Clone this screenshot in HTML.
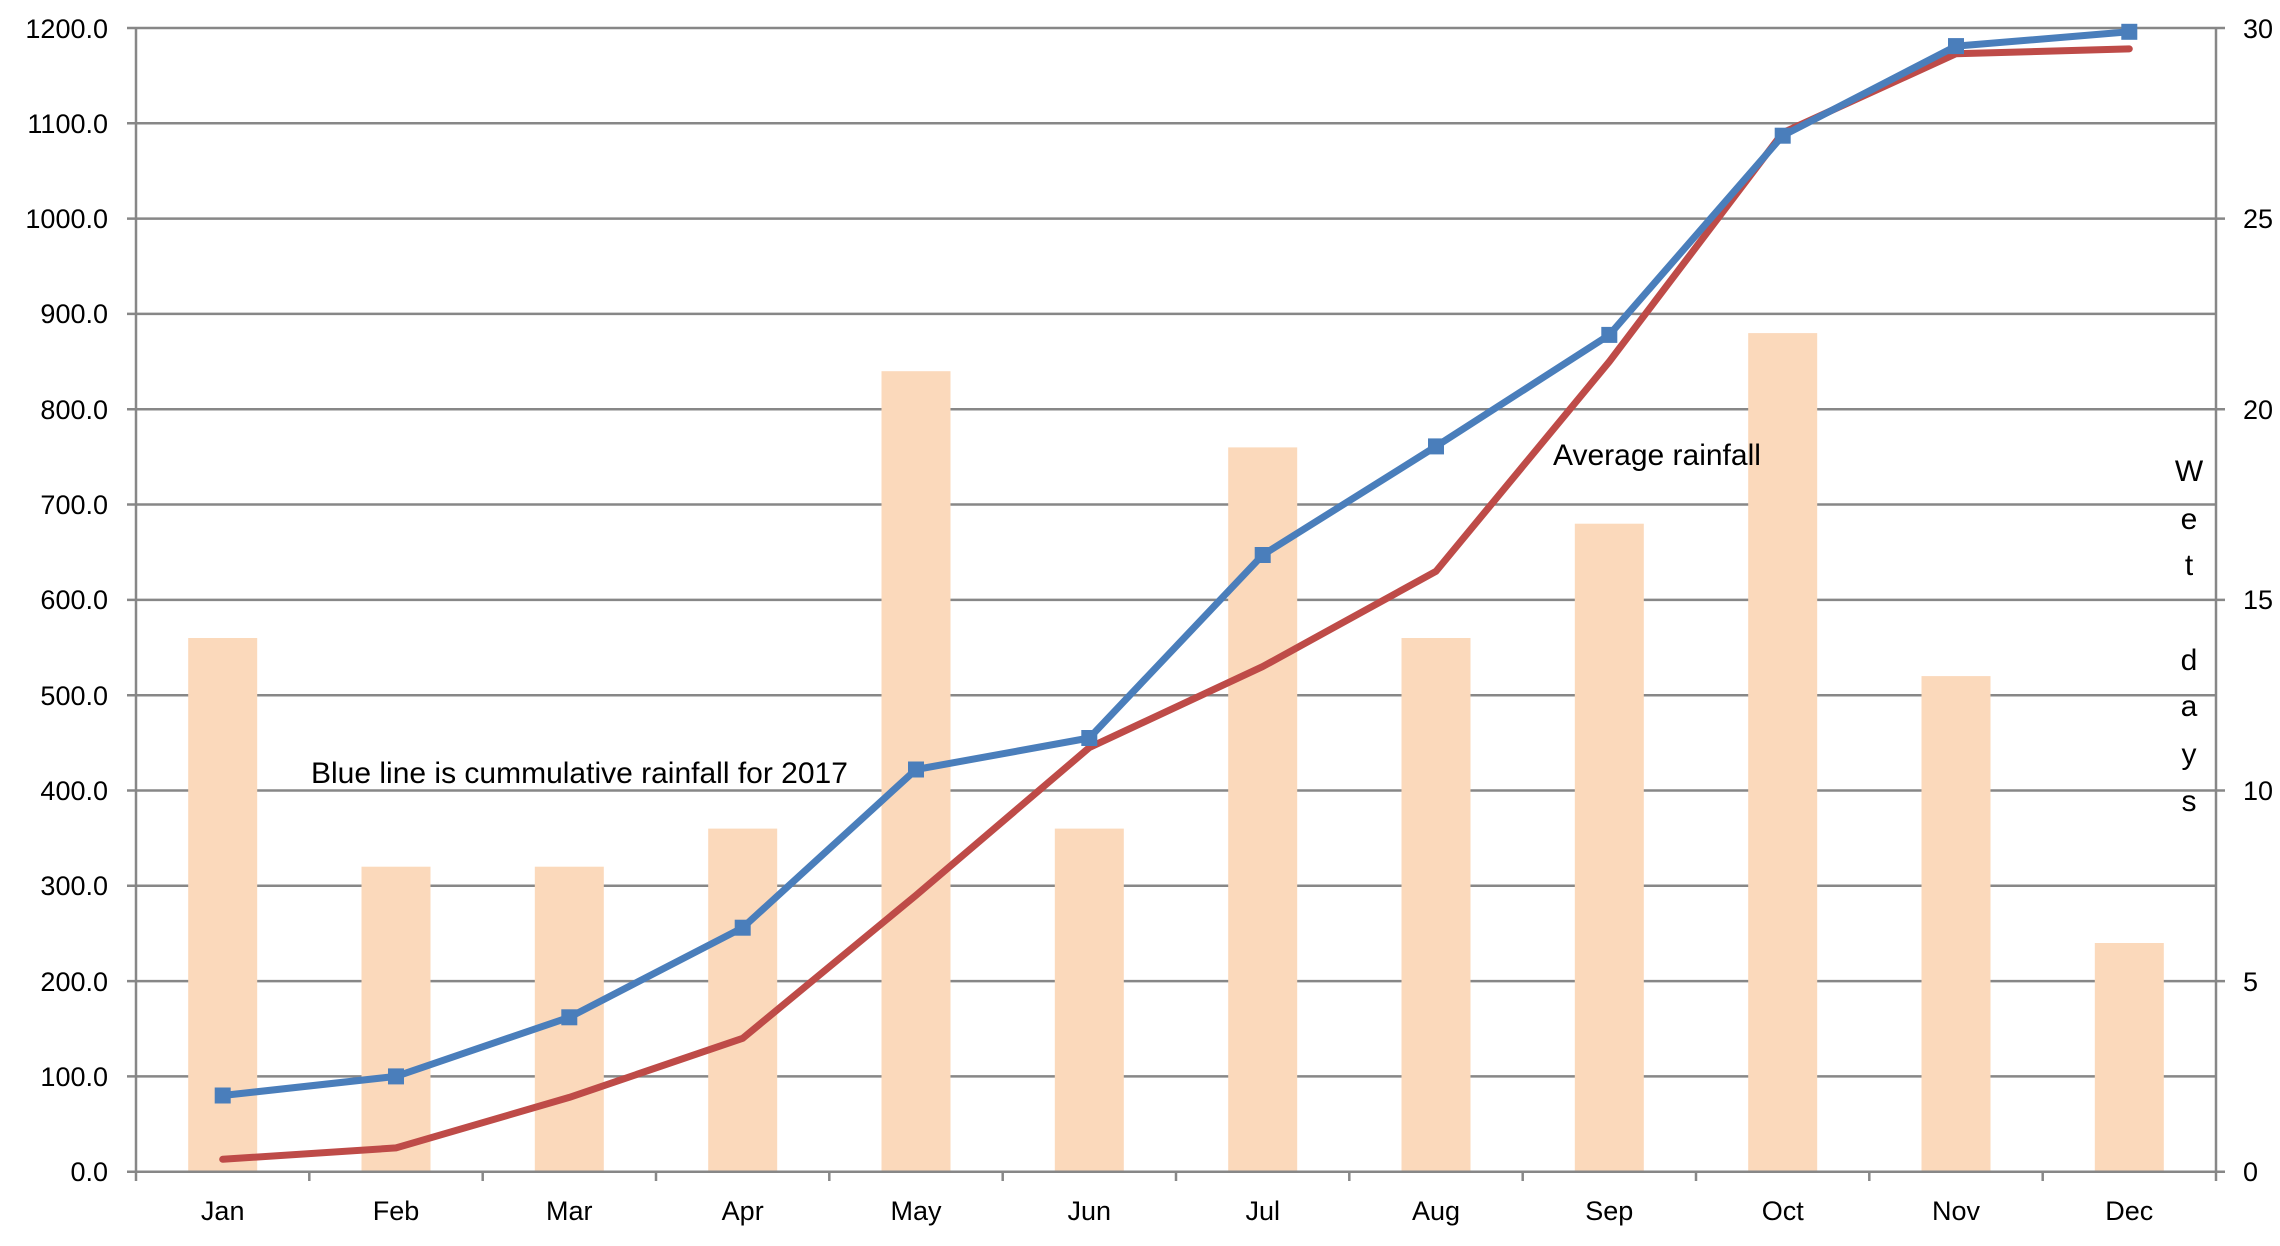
<!DOCTYPE html>
<html><head><meta charset="utf-8"><style>
body{margin:0;background:#fff}
text{font-family:"Liberation Sans",sans-serif;font-size:27px;fill:#000}
.a{font-size:30px}
</style></head><body>
<svg width="2280" height="1241" viewBox="0 0 2280 1241" xmlns="http://www.w3.org/2000/svg">
<g stroke="#878787" stroke-width="2.5">
<line x1="127" x2="2216" y1="1076.4" y2="1076.4"/><line x1="127" x2="2225" y1="981.1" y2="981.1"/>
<line x1="127" x2="2216" y1="885.8" y2="885.8"/><line x1="127" x2="2225" y1="790.5" y2="790.5"/>
<line x1="127" x2="2216" y1="695.2" y2="695.2"/><line x1="127" x2="2225" y1="599.9" y2="599.9"/>
<line x1="127" x2="2216" y1="504.5" y2="504.5"/><line x1="127" x2="2225" y1="409.2" y2="409.2"/>
<line x1="127" x2="2216" y1="313.9" y2="313.9"/><line x1="127" x2="2225" y1="218.6" y2="218.6"/>
<line x1="127" x2="2216" y1="123.3" y2="123.3"/><line x1="127" x2="2225" y1="28" y2="28"/>
</g>
<g fill="#fbd9bb">
<rect x="188.2" y="638" width="69" height="533.7"/>
<rect x="361.5" y="866.7" width="69" height="305"/>
<rect x="534.8" y="866.7" width="69" height="305"/>
<rect x="708.2" y="828.6" width="69" height="343.1"/>
<rect x="881.5" y="371.2" width="69" height="800.5"/>
<rect x="1054.8" y="828.6" width="69" height="343.1"/>
<rect x="1228.2" y="447.4" width="69" height="724.3"/>
<rect x="1401.5" y="638" width="69" height="533.7"/>
<rect x="1574.8" y="523.7" width="69" height="648"/>
<rect x="1748.2" y="333.1" width="69" height="838.6"/>
<rect x="1921.5" y="676.1" width="69" height="495.6"/>
<rect x="2094.8" y="943" width="69" height="228.7"/>
</g>
<g stroke="#878787" stroke-width="2.5">
<line x1="127" x2="2225" y1="1171.7" y2="1171.7"/>
<line x1="136" x2="136" y1="28" y2="1181"/>
<line x1="2216" x2="2216" y1="28" y2="1171.7"/>
<line x1="309.3" x2="309.3" y1="1171.7" y2="1181"/><line x1="482.7" x2="482.7" y1="1171.7" y2="1181"/>
<line x1="656" x2="656" y1="1171.7" y2="1181"/><line x1="829.3" x2="829.3" y1="1171.7" y2="1181"/>
<line x1="1002.7" x2="1002.7" y1="1171.7" y2="1181"/><line x1="1176" x2="1176" y1="1171.7" y2="1181"/>
<line x1="1349.3" x2="1349.3" y1="1171.7" y2="1181"/><line x1="1522.7" x2="1522.7" y1="1171.7" y2="1181"/>
<line x1="1696" x2="1696" y1="1171.7" y2="1181"/><line x1="1869.3" x2="1869.3" y1="1171.7" y2="1181"/>
<line x1="2042.7" x2="2042.7" y1="1171.7" y2="1181"/><line x1="2216" x2="2216" y1="1171.7" y2="1181"/>
</g>
<polyline fill="none" stroke="#be4b48" stroke-width="7" stroke-linejoin="round" stroke-linecap="round" points="222.7,1159.3 396,1147.9 569.3,1097.4 742.7,1038.3 916,895.3 1089.3,747.6 1262.7,666.6 1436,571.3 1609.3,361.6 1782.7,132.8 1956,53.7 2129.3,48.9"/>
<polyline fill="none" stroke="#4a7ebb" stroke-width="7" stroke-linejoin="round" points="222.7,1095.5 396,1076.4 569.3,1017.3 742.7,927.7 916,769.5 1089.3,738 1262.7,555 1436,446.4 1609.3,334.9 1782.7,135.7 1956,46.1 2129.3,31.8"/>
<g fill="#4a7ebb">
<rect x="214.7" y="1087.5" width="16" height="16"/><rect x="388" y="1068.4" width="16" height="16"/>
<rect x="561.3" y="1009.3" width="16" height="16"/><rect x="734.7" y="919.7" width="16" height="16"/>
<rect x="908" y="761.5" width="16" height="16"/><rect x="1081.3" y="730" width="16" height="16"/>
<rect x="1254.7" y="547" width="16" height="16"/><rect x="1428" y="438.4" width="16" height="16"/>
<rect x="1601.3" y="326.9" width="16" height="16"/><rect x="1774.7" y="127.7" width="16" height="16"/>
<rect x="1948" y="38.1" width="16" height="16"/><rect x="2121.3" y="23.8" width="16" height="16"/>
</g>
<g text-anchor="end">
<text x="108" y="1181">0.0</text><text x="108" y="1086">100.0</text><text x="108" y="991">200.0</text>
<text x="108" y="895">300.0</text><text x="108" y="800">400.0</text><text x="108" y="705">500.0</text>
<text x="108" y="609">600.0</text><text x="108" y="514">700.0</text><text x="108" y="419">800.0</text>
<text x="108" y="323">900.0</text><text x="108" y="228">1000.0</text><text x="108" y="133">1100.0</text>
<text x="108" y="38">1200.0</text>
</g>
<g>
<text x="2243" y="1181">0</text><text x="2243" y="991">5</text><text x="2243" y="800">10</text>
<text x="2243" y="609">15</text><text x="2243" y="419">20</text><text x="2243" y="228">25</text><text x="2243" y="38">30</text>
</g>
<g text-anchor="middle">
<text x="222.7" y="1220">Jan</text><text x="396" y="1220">Feb</text><text x="569.3" y="1220">Mar</text>
<text x="742.7" y="1220">Apr</text><text x="916" y="1220">May</text><text x="1089.3" y="1220">Jun</text>
<text x="1262.7" y="1220">Jul</text><text x="1436" y="1220">Aug</text><text x="1609.3" y="1220">Sep</text>
<text x="1782.7" y="1220">Oct</text><text x="1956" y="1220">Nov</text><text x="2129.3" y="1220">Dec</text>
<text class="a" x="2189" y="481">W</text><text class="a" x="2189" y="529">e</text><text class="a" x="2189" y="575">t</text>
<text class="a" x="2189" y="670">d</text><text class="a" x="2189" y="716">a</text><text class="a" x="2189" y="764">y</text><text class="a" x="2189" y="811">s</text>
</g>
<text class="a" x="311" y="783">Blue line is cummulative rainfall for 2017</text>
<text class="a" x="1553" y="465">Average rainfall</text>
</svg>
</body></html>
